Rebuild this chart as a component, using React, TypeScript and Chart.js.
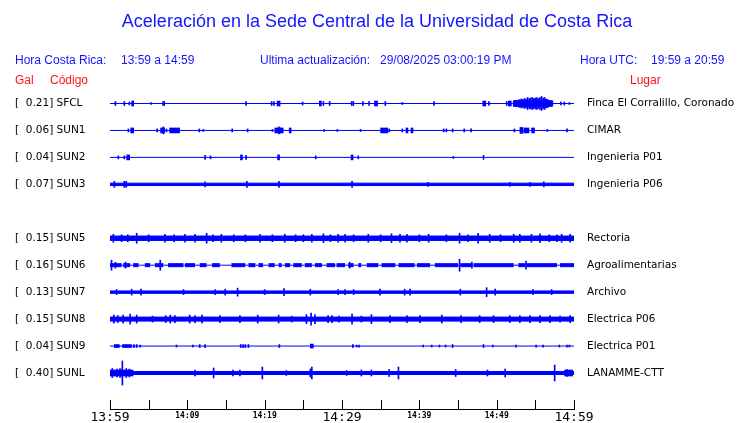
import React, { useEffect, useRef } from 'react';
import { Chart, registerables } from 'chart.js';
Chart.register(...registerables);

// ---------- texts ----------
const TITLE = 'Aceleración en la Sede Central de la Universidad de Costa Rica';
const HORA_CR_LABEL = 'Hora Costa Rica:';
const HORA_CR = '13:59 a 14:59';
const UPDATED_LABEL = 'Ultima actualización:';
const UPDATED = '29/08/2025 03:00:19 PM';
const HORA_UTC_LABEL = 'Hora UTC:';
const HORA_UTC = '19:59 a 20:59';

// ---------- stations (slot 4 is empty in the display) ----------
const CODES = ['SFCL', 'SUN1', 'SUN2', 'SUN3', '', 'SUN5', 'SUN6', 'SUN7', 'SUN8', 'SUN9', 'SUNL'];
const PEAK_GAL = [0.21, 0.06, 0.04, 0.07, null, 0.15, 0.16, 0.13, 0.15, 0.04, 0.40];
const PLACES = ['Finca El Corralillo, Coronado', 'CIMAR', 'Ingenieria P01', 'Ingenieria P06', '', 'Rectoria', 'Agroalimentarias', 'Archivo', 'Electrica P06', 'Electrica P01', 'LANAMME-CTT'];

// ---------- time axis (minutes after 13:59) ----------
const TIME_TICKS = [0, 10, 20, 30, 40, 50, 60];
const TIME_LABELS = ['13:59', '14:09', '14:19', '14:29', '14:39', '14:49', '14:59'];
const MAJOR_LABELS = ['13:59', '14:29', '14:59'];

// background noise half-amplitude of each trace
const NOISE = [0, 0, 0, 1.2, null, 2.2, 0, 1.2, 2.0, 0, 1.5];

// SUN6 thicker noise stretches [start, end] (minutes), half-amplitude
const SUN6_BURSTS = [[0, 1.5], [1.7, 2.6], [3.0, 3.7], [4.5, 5.2], [5.8, 6.9], [7.5, 9.5], [9.7, 11.0], [11.6, 12.5], [13.2, 14.2], [15.7, 17.5], [17.9, 18.8], [19.2, 19.8], [20.5, 21.3], [21.8, 22.2], [22.6, 23.3], [23.7, 24.8], [25.2, 26.1], [26.5, 27.4], [28.0, 29.1], [29.3, 30.4], [30.8, 31.5], [32.1, 32.5], [33.2, 34.7], [35.1, 36.9], [37.3, 39.4], [39.7, 41.4], [42.0, 45.0], [45.3, 46.8], [47.0, 52.2], [52.8, 53.7], [53.9, 57.8], [58.2, 60]];
const SUN6_BURST_AMP = 1.5;

// spikes: [minute, half-amplitude, duration in minutes]
const SFCL_SPIKES = [[0.7, 2], [1.85, 2], [2.5, 1.5], [2.93, 2.5, 0.3], [5.3, 1], [6.94, 2, 0.2], [17.6, 2], [20.9, 2], [21.2, 2], [21.8, 2.5, 0.4], [24.9, 1.5], [27.2, 2.5, 0.3], [27.6, 2], [28.4, 2], [31.25, 2], [31.46, 2], [32.7, 2], [33.5, 2], [34.4, 2.5, 0.35], [35.6, 2], [37.8, 1], [41.9, 2], [48.4, 2.5, 0.45], [49.0, 2], [51.3, 2], [51.7, 2.5, 0.45],
  [54.7, 3, 5.0], [52.2, 2.5, 0.15], [52.4, 3, 0.15], [52.6, 3, 0.15], [52.8, 3.5, 0.15], [53.0, 4, 0.15], [53.2, 4.5, 0.15], [53.4, 4, 0.15], [53.6, 5, 0.15], [53.8, 4.5, 0.15], [54.0, 6, 0.15], [54.2, 5, 0.15], [54.4, 5.5, 0.15], [54.6, 6, 0.15], [54.8, 5, 0.15], [55.0, 5.5, 0.15], [55.2, 6, 0.15], [55.4, 5, 0.15], [55.6, 6, 0.15], [55.8, 7, 0.15], [56.0, 5.5, 0.15], [56.2, 6, 0.15], [56.4, 4.5, 0.15], [56.6, 4, 0.15], [56.8, 3, 0.15], [57.0, 2.5, 0.15], [57.2, 2, 0.15],
  [58.3, 1.5], [58.75, 1.5], [59.4, 1]];
const SUN1_SPIKES = [[2.37, 1.5], [2.87, 2.5, 0.45], [6.1, 1.5], [6.8, 2.5, 0.5], [6.9, 3.5], [7.3, 1.5], [8.35, 2.5, 1.3], [11.55, 1.5], [12.07, 1], [15.8, 1.5], [17.8, 1.5], [21.0, 1], [21.7, 2.5, 0.8], [21.85, 3.5], [22.2, 2.5, 0.4], [23.3, 2.5, 0.25], [27.7, 1], [29.4, 1], [32.4, 1], [35.45, 2.5, 0.9], [36.1, 1.5], [37.8, 1.5], [38.4, 2.5, 0.25], [39.05, 2.5, 0.3], [43.15, 1.5], [43.5, 1.5], [44.3, 1.5], [45.8, 1.5], [46.7, 1.5], [52.3, 1.5], [53.2, 3, 0.4], [53.85, 2.5, 0.6], [54.7, 2.5, 0.45], [56.55, 1], [59.1, 1.5]];
const SUN2_SPIKES = [[1.08, 1.5], [1.85, 1.5], [2.35, 2.5, 0.45], [12.3, 2], [13.0, 1.5], [17.0, 2.5, 0.25], [17.6, 2], [21.8, 2.5, 0.25], [26.6, 1.5], [31.3, 2.5, 0.3], [32.1, 1.5], [44.4, 1], [48.3, 2]];
const SUN3_SPIKES = [[0.56, 3], [1.85, 3], [2.1, 3], [12.3, 2.5], [17.7, 3], [21.85, 3], [31.3, 3], [41.1, 2], [51.7, 2], [54.3, 2], [56.1, 2.5]];
const SUN5_SPIKES = [[0.43, 4], [1.5, 3.5], [2.3, 3.5], [3.45, 5], [5.0, 3.5], [7.1, 4], [8.3, 3.5], [9.7, 4], [11.0, 4], [12.5, 5], [13.3, 3.5], [14.4, 4], [16.0, 3.5], [17.5, 3.5], [19.4, 4], [21.0, 3.5], [22.6, 4], [24.0, 3.5], [25.0, 3.5], [26.1, 4], [27.6, 4.5], [28.5, 3.5], [29.5, 4], [30.4, 4], [31.5, 3.5], [33.4, 4], [35.0, 3.5], [36.4, 4.5], [37.5, 4], [38.4, 4], [40.0, 3.5], [41.2, 4], [43.5, 3.5], [45.2, 5], [46.3, 3.5], [47.6, 5], [49.1, 4], [50.5, 3.5], [52.2, 4], [53.0, 4], [54.5, 4], [55.6, 4.5], [56.8, 3.5], [57.8, 3.5], [58.4, 4], [59.5, 4]];
const SUN6_SPIKES = [[0.2, 5], [0.7, 3], [2.0, 3], [6.5, 5], [31.0, 3], [45.2, 6], [46.8, 3], [53.8, 4]];
const SUN7_SPIKES = [[0.86, 2.5], [2.8, 3], [4.0, 3], [9.5, 2.5], [13.6, 2.5], [14.9, 3], [16.5, 4], [20.0, 2.5], [22.5, 3.5], [25.9, 3], [29.5, 2.5], [30.4, 2.5], [31.5, 2.5], [34.9, 3], [38.1, 3], [38.8, 3], [45.3, 3], [48.7, 4.5], [49.8, 3], [54.7, 2.5], [57.1, 2.5]];
const SUN8_SPIKES = [[0.5, 4], [1.0, 3.5], [1.7, 4], [2.6, 5], [3.45, 4], [5.5, 3], [7.2, 3.5], [7.8, 4], [8.4, 3.5], [10.3, 4], [11.0, 3.5], [11.9, 4], [14.2, 3.5], [16.8, 3.5], [19.1, 4], [21.8, 4], [23.5, 3], [25.4, 4.5], [26.0, 6], [26.5, 4.5], [28.2, 3.5], [28.7, 3.5], [29.6, 3], [31.3, 5], [32.5, 3], [33.8, 4.5], [36.2, 3.5], [38.4, 3.5], [40.1, 3.5], [42.9, 4], [45.4, 3.5], [47.8, 3.5], [49.6, 3.5], [51.7, 3.5], [53.0, 3.5], [54.3, 3.5], [55.6, 3.5], [56.9, 3.5], [58.2, 3], [59.5, 3.5]];
const SUN9_SPIKES = [[0.88, 1.5, 0.65], [2.2, 1.5, 1.2], [3.1, 1.5], [3.45, 1.5], [3.9, 1], [8.6, 1], [10.7, 1], [11.6, 1.5], [12.3, 1.5], [16.9, 1.5], [17.2, 1.5], [17.5, 1.5], [17.9, 1.5], [21.9, 1.5], [26.1, 2, 0.4], [31.4, 1.5], [31.9, 1], [32.2, 1], [40.5, 1], [41.6, 1], [42.6, 1], [43.4, 1], [44.3, 1.5], [48.3, 1.5], [49.5, 1], [52.5, 1], [55.1, 1], [56.0, 1], [58.1, 1], [59.1, 1], [59.4, 1]];
const SUNL_SPIKES = [[1.5, 3, 3.0], [0.3, 4.5], [0.9, 4], [1.3, 4.5], [1.6, 12], [2.1, 4.5], [2.5, 4], [11.0, 3], [13.4, 5], [15.9, 3], [16.8, 3], [19.7, 6], [22.8, 2.5], [25.9, 4], [26.1, 6], [30.6, 2.5], [32.5, 3], [33.8, 3], [36.1, 3.5], [37.3, 6], [44.7, 3.5], [48.8, 3], [51.1, 4], [57.5, 8], [59.1, 3.5], [59.3, 3, 1.0]];

const SPIKES = [SFCL_SPIKES, SUN1_SPIKES, SUN2_SPIKES, SUN3_SPIKES, [], SUN5_SPIKES, SUN6_SPIKES, SUN7_SPIKES, SUN8_SPIKES, SUN9_SPIKES, SUNL_SPIKES];

// ---------- styling / layout ----------
const BLUE = '#0000ff';
const TEXT_BLUE = '#1414ff';
const TEXT_RED = '#ff1414';
const ROW_STEP = 26.95;
const PLOT_LEFT = 110;
const PLOT_RIGHT = 574;
const PLOT_TOP = 88;
const PLOT_BOTTOM = 409;
const W = 740;
const H = 423;
const PX_PER_MIN = (PLOT_RIGHT - PLOT_LEFT) / 60;
const FIRST_ROW_PX = 103.5;
const Y_MIN = -(FIRST_ROW_PX - PLOT_TOP);
const Y_MAX = PLOT_BOTTOM - FIRST_ROW_PX;
const LABEL_FONT = { family: 'DejaVu Sans', size: 10.5 };

const rowY = (i: number) => i * ROW_STEP;
const rowIndexOf = (v: number) => Math.round(v / ROW_STEP);

function buildDatasets() {
  const ds: any[] = [];
  CODES.forEach((code, i) => {
    if (!code) return;
    const y0 = rowY(i);
    const a = NOISE[i] as number;
    ds.push({ type: 'line', data: [{ x: 0, y: y0 - a }, { x: 60, y: y0 - a }], borderColor: BLUE, borderWidth: 1, pointRadius: 0, fill: false, order: 2 });
    if (a > 0) {
      ds.push({ type: 'line', data: [{ x: 0, y: y0 + a }, { x: 60, y: y0 + a }], borderColor: BLUE, backgroundColor: BLUE, borderWidth: 1, pointRadius: 0, fill: '-1', order: 2 });
    }
  });
  // SUN6 thicker stretches
  const i6 = CODES.indexOf('SUN6');
  const y6 = rowY(i6);
  const up: any[] = [];
  const lo: any[] = [];
  SUN6_BURSTS.forEach(([s, e]) => {
    up.push({ x: s, y: y6 - SUN6_BURST_AMP }, { x: e, y: y6 - SUN6_BURST_AMP }, { x: e, y: null });
    lo.push({ x: s, y: y6 + SUN6_BURST_AMP }, { x: e, y: y6 + SUN6_BURST_AMP }, { x: e, y: null });
  });
  ds.push({ type: 'line', data: up, borderColor: BLUE, borderWidth: 1, pointRadius: 0, fill: false, spanGaps: false, order: 2 });
  ds.push({ type: 'line', data: lo, borderColor: BLUE, backgroundColor: BLUE, borderWidth: 1, pointRadius: 0, fill: '-1', spanGaps: false, order: 2 });

  // spikes grouped by drawn width
  const groups = new Map<number, any[]>();
  SPIKES.forEach((list, i) => {
    const y0 = rowY(i);
    list.forEach((sp: number[]) => {
      const [t, amp, dur = 0] = sp;
      const w = Math.max(1, Math.round(dur * PX_PER_MIN));
      if (!groups.has(w)) groups.set(w, []);
      groups.get(w)!.push({ x: t, y: [y0 - amp, y0 + amp] });
    });
  });
  groups.forEach((data, w) => {
    ds.push({ type: 'bar', data, barThickness: w, backgroundColor: BLUE, borderWidth: 0, grouped: false, order: 1 });
  });
  return ds;
}

const framePlugin = {
  id: 'frame',
  afterDraw(chart: any) {
    const ctx = chart.ctx;
    const area = chart.chartArea;
    ctx.save();
    ctx.textBaseline = 'middle';
    ctx.fillStyle = TEXT_BLUE;
    ctx.font = '18px "Liberation Sans"';
    ctx.textAlign = 'center';
    ctx.fillText(TITLE, 377, 22);
    ctx.font = '12px "Liberation Sans"';
    ctx.textAlign = 'left';
    ctx.fillText(HORA_CR_LABEL, 15, 60.5);
    ctx.fillText(HORA_CR, 121, 60.5);
    ctx.fillText(UPDATED_LABEL, 260, 60.5);
    ctx.fillText(UPDATED, 380, 60.5);
    ctx.fillText(HORA_UTC_LABEL, 580, 60.5);
    ctx.fillText(HORA_UTC, 651, 60.5);
    ctx.fillStyle = TEXT_RED;
    ctx.fillText('Gal', 15, 81);
    ctx.fillText('Código', 50, 81);
    ctx.fillText('Lugar', 630, 81);
    // time axis line + upward tick marks
    const xs = chart.scales.x;
    const b = area.bottom;
    ctx.strokeStyle = '#000';
    ctx.lineWidth = 1;
    ctx.beginPath();
    ctx.moveTo(area.left, b + 0.5);
    ctx.lineTo(area.right + 1, b + 0.5);
    xs.ticks.forEach((t: any) => {
      const px = Math.round(xs.getPixelForValue(t.value)) + 0.5;
      ctx.moveTo(px, b - 9);
      ctx.lineTo(px, b + 1);
    });
    ctx.stroke();
    ctx.restore();
  },
};

const rowTicks = (scale: any) => {
  scale.ticks = CODES.map((c, i) => (c ? { value: rowY(i) } : null)).filter(Boolean);
};

export default function App() {
  const ref = useRef<HTMLCanvasElement>(null);
  useEffect(() => {
    const chart = new Chart(ref.current!, {
      type: 'bar',
      data: { datasets: buildDatasets() },
      options: {
        responsive: false,
        animation: false,
        devicePixelRatio: 1,
        layout: { padding: { top: PLOT_TOP, left: 15, right: 0, bottom: 0 } },
        plugins: { legend: { display: false }, tooltip: { enabled: false }, title: { display: false } },
        events: [],
        scales: {
          x: {
            type: 'linear', min: 0, max: 60, offset: false,
            grid: { display: false, drawTicks: false }, border: { display: false },
            afterFit: (s: any) => { s.height = H - PLOT_BOTTOM; },
            ticks: {
              stepSize: 5, autoSkip: false, maxRotation: 0, padding: 1, color: '#000',
              callback: (v: any) => { const k = TIME_TICKS.indexOf(Number(v)); return k >= 0 ? TIME_LABELS[k] : ''; },
              font: (ctx: any) => {
                const k = TIME_TICKS.indexOf(ctx.tick ? ctx.tick.value : -1);
                const lbl = k >= 0 ? TIME_LABELS[k] : '';
                return MAJOR_LABELS.includes(lbl)
                  ? { family: 'DejaVu Sans Mono', size: 13, lineHeight: 1.15 }
                  : { family: 'DejaVu Sans Mono', size: 8, weight: 'bold', lineHeight: 1.6 };
              },
            },
          },
          y: {
            type: 'linear', position: 'left', reverse: true, min: Y_MIN, max: Y_MAX,
            grid: { display: false, drawTicks: false }, border: { display: false },
            afterBuildTicks: rowTicks,
            afterFit: (s: any) => { s.width = PLOT_LEFT - 15; },
            ticks: {
              autoSkip: false, crossAlign: 'far', padding: 0, color: '#000', font: LABEL_FONT,
              callback: (v: any) => { const i = rowIndexOf(Number(v)); return `[  ${(PEAK_GAL[i] as number).toFixed(2)}] ${CODES[i]}`; },
            },
          },
          y2: {
            type: 'linear', position: 'right', reverse: true, min: Y_MIN, max: Y_MAX,
            grid: { display: false, drawTicks: true, tickLength: 13 }, border: { display: false },
            afterBuildTicks: rowTicks,
            afterFit: (s: any) => { s.width = W - PLOT_RIGHT; },
            ticks: {
              autoSkip: false, crossAlign: 'near', padding: 0, color: '#000', font: LABEL_FONT,
              callback: (v: any) => PLACES[rowIndexOf(Number(v))],
            },
          },
        },
      },
      plugins: [framePlugin],
    } as any);
    return () => chart.destroy();
  }, []);
  return (
    <div style={{ position: 'fixed', left: 0, top: 0, width: W, height: H, background: '#fff' }}>
      <canvas ref={ref} width={W} height={H} style={{ display: 'block' }} />
    </div>
  );
}
